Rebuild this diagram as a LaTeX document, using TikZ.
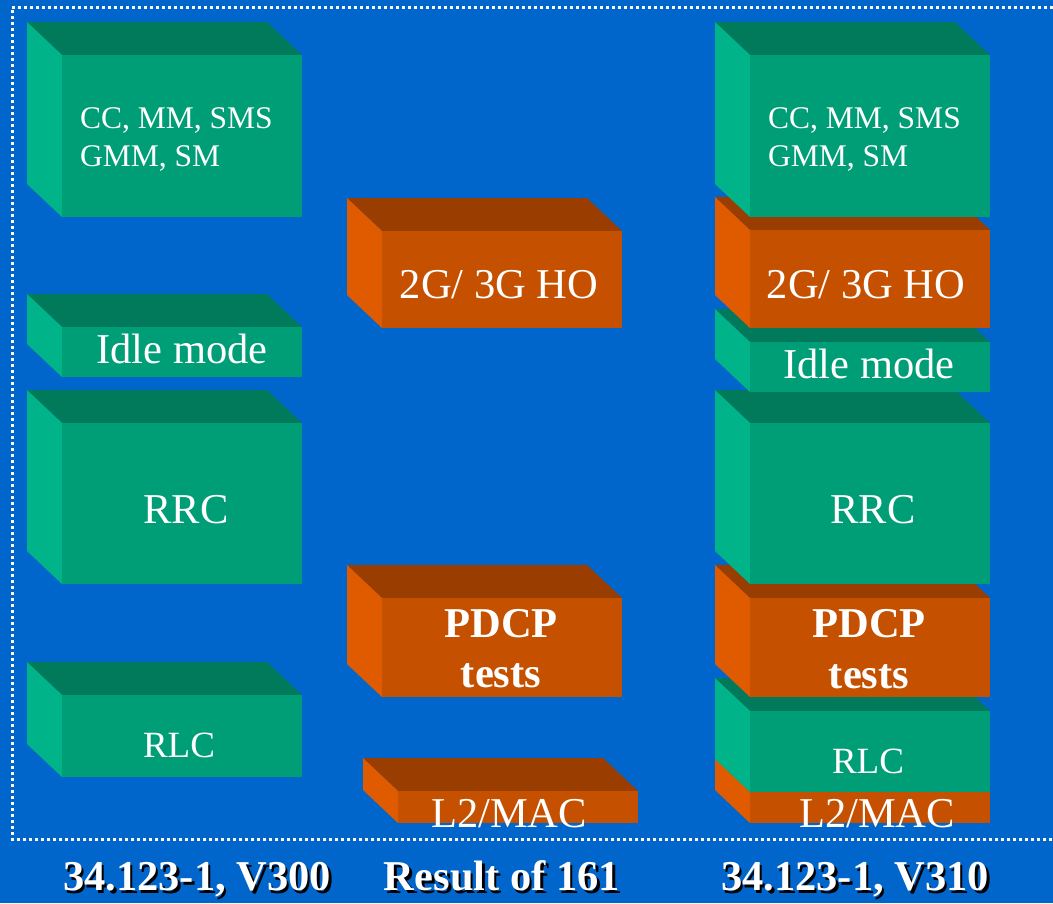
\documentclass[tikz,border=0pt]{standalone}
\usepackage{fontspec}
\setmainfont{Liberation Serif}
\definecolor{bgblue}{RGB}{0,102,204}
\definecolor{grfront}{RGB}{0,158,118}
\definecolor{grtop}{RGB}{0,122,90}
\definecolor{grside}{RGB}{0,179,136}
\definecolor{orfront}{RGB}{196,80,0}
\definecolor{ortop}{RGB}{153,61,0}
\definecolor{orside}{RGB}{224,90,0}
% \slab{x left}{y top}{x right}{y bottom}{front}{top}{side} -- front face, depth to upper left
\newcommand{\slab}[7]{%
	\fill[#6] (#1,#2) -- (#3,#2) -- (#3-35,#2-33) -- (#1-35,#2-33) -- cycle;
	\fill[#7] (#1,#2) -- (#1-35,#2-33) -- (#1-35,#4-33) -- (#1,#4) -- cycle;
	\fill[#5] (#1,#2) rectangle (#3,#4);}
\newcommand{\greenslab}[4]{\slab{#1}{#2}{#3}{#4}{grfront}{grtop}{grside}}
\newcommand{\orangeslab}[4]{\slab{#1}{#2}{#3}{#4}{orfront}{ortop}{orside}}
\tikzset{
	lbl/.style={text=white,inner sep=0pt,anchor=base},
	small/.style={lbl,font=\fontsize{31.5}{38}\selectfont},
	mid/.style={lbl,font=\fontsize{37}{44}\selectfont},
	big/.style={lbl,font=\fontsize{42.5}{51}\selectfont},
	bigbold/.style={lbl,font=\fontsize{42.5}{51}\selectfont\bfseries},
	caption/.style={bigbold},
	shade/.style={bigbold,text=black}
}
\begin{document}
\begin{tikzpicture}[x=1pt,y=-1pt]
	\fill[bgblue] (0,0) rectangle (1053,903);
	\useasboundingbox (0,0) rectangle (1053,903);
	\draw[white,line width=3pt,dash pattern=on 3pt off 3pt] (1053,7) -- (12,7) -- (12,839) -- (1053,839);
	% left column: 34.123-1, V300
	\greenslab{62}{695}{302}{777}
	\greenslab{62}{423}{302}{584}
	\greenslab{62}{327}{302}{377}
	\greenslab{62}{55}{302}{217}
	\node[small,anchor=base west] (cc-l1) at (80,128) {CC, MM, SMS};
	\node[small,anchor=base west] (cc-l2) at (80,166) {GMM, SM};
	\node[big] (idle-l) at (182,363) {Idle mode};
	\node[big] (rrc-l) at (186,523) {RRC};
	\node[mid] (rlc-l) at (179,757) {RLC};
	% middle column: result
	\orangeslab{398}{791}{638}{823}
	\orangeslab{382}{598}{622}{697}
	\orangeslab{382}{231}{622}{328}
	\node[big] (ho-m) at (499,298) {2G/ 3G HO};
	\node[bigbold] (pdcp-m1) at (501,637) {PDCP};
	\node[bigbold] (pdcp-m2) at (501,687) {tests};
	\node[big] (mac-m) at (509,827) {L2/MAC};
	% right column: 34.123-1, V310
	\orangeslab{750}{792}{990}{823}
	\greenslab{750}{711}{990}{792}
	\orangeslab{750}{598}{990}{697}
	\greenslab{750}{423}{990}{584}
	\greenslab{750}{342}{990}{392}
	\orangeslab{750}{230}{990}{328}
	\greenslab{750}{55}{990}{217}
	\node[small,anchor=base west] (cc-r1) at (768,128) {CC, MM, SMS};
	\node[small,anchor=base west] (cc-r2) at (768,166) {GMM, SM};
	\node[big] (ho-r) at (866,298) {2G/ 3G HO};
	\node[big] (idle-r) at (869,378) {Idle mode};
	\node[big] (rrc-r) at (873,523) {RRC};
	\node[bigbold] (pdcp-r1) at (869,637) {PDCP};
	\node[bigbold] (pdcp-r2) at (869,688) {tests};
	\node[mid] (rlc-r) at (868,773) {RLC};
	\node[big] (mac-r) at (877,827) {L2/MAC};
	% captions with shadow
	\foreach \cx/\txt in {197/{34.123-1, V300},502/{Result of 161},855/{34.123-1, V310}}{
		\node[shade] at (\cx+2.5,893) {\txt};
		\node[caption] at (\cx,890.5) {\txt};
	}
\end{tikzpicture}
\end{document}
